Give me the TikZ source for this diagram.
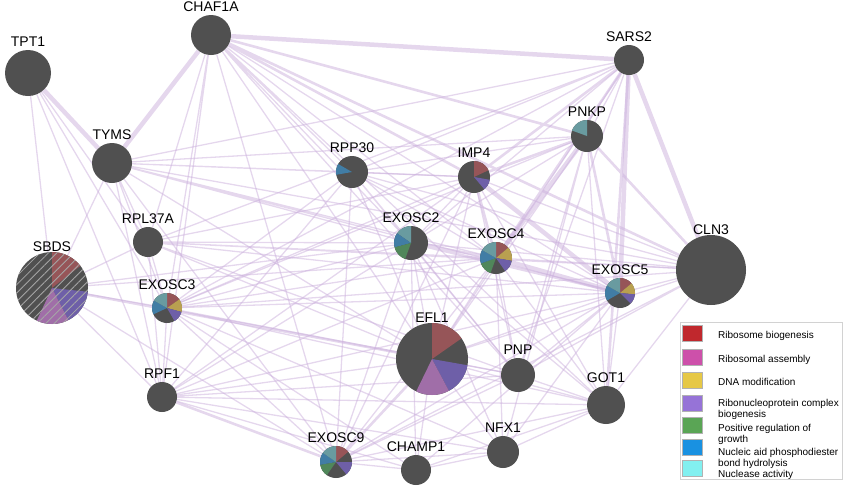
\documentclass[tikz,border=0pt]{standalone}
\usepackage{fontspec}
\setmainfont{Liberation Sans}
\usetikzlibrary{backgrounds,patterns.meta}

\definecolor{nodegray}{RGB}{80,80,80}
\definecolor{linklilac}{RGB}{203,176,220}
% legend colours
\definecolor{ribred}{RGB}{192,40,45}
\definecolor{ribmag}{RGB}{205,80,170}
\definecolor{dnayel}{RGB}{230,200,70}
\definecolor{rnppur}{RGB}{150,115,215}
\definecolor{growgrn}{RGB}{90,165,85}
\definecolor{hydblu}{RGB}{25,145,225}
\definecolor{nuccyn}{RGB}{130,240,240}
% muted pie colours
\definecolor{piered}{RGB}{150,85,88}
\definecolor{piemag}{RGB}{160,110,168}
\definecolor{pieyel}{RGB}{185,160,80}
\definecolor{piepur}{RGB}{110,95,168}
\definecolor{piegrn}{RGB}{80,135,90}
\definecolor{pieblu}{RGB}{65,125,165}
\definecolor{piecyn}{RGB}{105,155,160}

\newcommand{\piewedge}[5]{\fill[#5] (#1.center) -- ++(#3:#2) arc[start angle=#3, end angle=#4, radius=#2] -- cycle;}

\begin{document}
\begin{tikzpicture}[
  x=1pt, y=1pt,
  gene/.style={circle, fill=nodegray, inner sep=0pt},
  lbl/.style={font=\fontsize{14}{16}\selectfont, text=black},
  link/.style={draw=linklilac, line width=1.3pt, opacity=0.5},
  linkmid/.style={link, line width=2.6pt},
  linkthick/.style={link, line width=4.5pt},
  swatch/.style={draw=gray!60, minimum width=20pt, minimum height=16pt, inner sep=0pt},
  legtext/.style={font=\fontsize{10}{11.5}\selectfont, inner sep=0pt, align=left}
]
\useasboundingbox (0,0) rectangle (850,-488);

% genes
\node[gene, minimum size=46pt, label={[lbl]above:TPT1}] (tpt1) at (28,-73) {};
\node[gene, minimum size=40pt, label={[lbl]above:CHAF1A}] (chaf1a) at (211,-35) {};
\node[gene, minimum size=30pt, label={[lbl]above:SARS2}] (sars2) at (629,-60) {};
\node[gene, minimum size=40pt, label={[lbl]above:TYMS}] (tyms) at (112,-163) {};
\node[gene, minimum size=32pt, label={[lbl]above:RPP30}] (rpp30) at (352,-172) {};
\node[gene, minimum size=32pt, label={[lbl]above:IMP4}] (imp4) at (474,-177) {};
\node[gene, minimum size=32pt, label={[lbl]above:PNKP}] (pnkp) at (587,-136) {};
\node[gene, minimum size=30pt, label={[lbl]above:RPL37A}] (rpl37a) at (148,-242) {};
\node[gene, minimum size=34pt, label={[lbl]above:EXOSC2}] (exosc2) at (411,-243) {};
\node[gene, minimum size=32pt, label={[lbl]above:EXOSC4}] (exosc4) at (496,-258) {};
\node[gene, minimum size=70pt, label={[lbl,label distance=-3pt]above:CLN3}] (cln3) at (711,-270) {};
\node[gene, minimum size=72pt, label={[lbl,label distance=-3pt]above:SBDS}] (sbds) at (52,-288) {};
\node[gene, minimum size=30pt, label={[lbl]above:EXOSC3}] (exosc3) at (167,-308) {};
\node[gene, minimum size=30pt, label={[lbl]above:EXOSC5}] (exosc5) at (620,-293) {};
\node[gene, minimum size=72pt, label={[lbl,label distance=-3pt]above:EFL1}] (efl1) at (432,-359) {};
\node[gene, minimum size=34pt, label={[lbl]above:PNP}] (pnp) at (518,-375) {};
\node[gene, minimum size=30pt, label={[lbl]above:RPF1}] (rpf1) at (162,-397) {};
\node[gene, minimum size=38pt, label={[lbl]above:GOT1}] (got1) at (606,-405) {};
\node[gene, minimum size=32pt, label={[lbl]above:NFX1}] (nfx1) at (503,-452) {};
\node[gene, minimum size=32pt, label={[lbl]above:EXOSC9}] (exosc9) at (336,-462) {};
\node[gene, minimum size=30pt, label={[lbl]above:CHAMP1}] (champ1) at (416,-470) {};

% interactions
\begin{scope}[on background layer]
\draw[linkthick] (tpt1) -- (tyms) (tyms) -- (chaf1a) (chaf1a) -- (sars2) (sars2) -- (cln3)
  (sars2) -- (exosc5) (pnkp) -- (exosc4) (imp4) -- (exosc5) (exosc4) -- (exosc5);
\draw[linkmid] (imp4) -- (exosc4) (pnkp) -- (imp4) (exosc2) -- (exosc5) (rpf1) -- (exosc9)
  (efl1) -- (exosc9) (chaf1a) -- (pnkp) (chaf1a) -- (cln3) (sars2) -- (imp4) (sars2) -- (exosc4)
  (pnkp) -- (cln3) (sbds) -- (efl1) (exosc2) -- (exosc4) (sars2) -- (got1) (pnkp) -- (exosc5)
  (chaf1a) -- (imp4);
\draw[link] (tpt1) -- (sbds) (tpt1) -- (exosc3) (tpt1) -- (rpl37a) (tpt1) -- (rpf1);
\draw[link] (tyms) -- (sbds) (tyms) -- (rpl37a) (tyms) -- (rpp30) (tyms) -- (exosc2)
  (tyms) -- (imp4) (tyms) -- (pnkp) (tyms) -- (sars2) (tyms) -- (exosc4) (tyms) -- (exosc5)
  (tyms) -- (cln3) (tyms) -- (efl1) (tyms) -- (exosc3) (tyms) -- (exosc9) (tyms) -- (rpf1);
\draw[link] (chaf1a) -- (rpp30) (chaf1a) -- (exosc2) (chaf1a) -- (exosc4)
  (chaf1a) -- (exosc5) (chaf1a) -- (rpl37a) (chaf1a) -- (exosc3) (chaf1a) -- (efl1)
  (chaf1a) -- (exosc9) (chaf1a) -- (pnp) (chaf1a) -- (got1) (chaf1a) -- (rpf1);
\draw[link] (sars2) -- (rpp30) (sars2) -- (exosc2) (sars2) -- (pnkp) (sars2) -- (efl1)
  (sars2) -- (rpl37a) (sars2) -- (exosc3) (sars2) -- (pnp);
\draw[link] (pnkp) -- (exosc2) (pnkp) -- (got1) (pnkp) -- (rpp30)
  (pnkp) -- (efl1) (pnkp) -- (nfx1) (pnkp) -- (exosc3) (pnkp) -- (pnp);
\draw[link] (imp4) -- (rpp30) (imp4) -- (exosc2) (imp4) -- (cln3) (imp4) -- (efl1) (imp4) -- (pnp)
  (imp4) -- (got1) (imp4) -- (exosc9) (imp4) -- (rpl37a) (imp4) -- (exosc3) (imp4) -- (rpf1);
\draw[link] (rpp30) -- (exosc2) (rpp30) -- (exosc4) (rpp30) -- (exosc5) (rpp30) -- (efl1)
  (rpp30) -- (rpf1) (rpp30) -- (exosc3) (rpp30) -- (exosc9) (rpp30) -- (pnp) (rpp30) -- (cln3);
\draw[link] (rpl37a) -- (exosc2) (rpl37a) -- (exosc4) (rpl37a) -- (exosc5) (rpl37a) -- (efl1)
  (rpl37a) -- (rpf1) (rpl37a) -- (exosc3) (rpl37a) -- (sbds) (rpl37a) -- (cln3) (rpl37a) -- (pnp);
\draw[link] (exosc2) -- (efl1) (exosc2) -- (exosc3) (exosc2) -- (exosc9) (exosc2) -- (rpf1)
  (exosc2) -- (pnp) (exosc2) -- (got1) (exosc2) -- (cln3) (exosc2) -- (champ1) (exosc2) -- (nfx1);
\draw[link] (exosc4) -- (efl1) (exosc4) -- (cln3) (exosc4) -- (pnp) (exosc4) -- (got1)
  (exosc4) -- (exosc3) (exosc4) -- (exosc9) (exosc4) -- (rpf1) (exosc4) -- (nfx1);
\draw[link] (exosc5) -- (cln3) (exosc5) -- (got1) (exosc5) -- (pnp) (exosc5) -- (efl1)
  (exosc5) -- (exosc3) (exosc5) -- (exosc9) (exosc5) -- (rpf1) (exosc5) -- (nfx1) (exosc5) -- (champ1);
\draw[link] (cln3) -- (got1) (cln3) -- (efl1) (cln3) -- (pnp) (cln3) -- (exosc3) (cln3) -- (exosc9);
\draw[link] (sbds) -- (exosc3) (sbds) -- (rpf1) (sbds) -- (exosc9) (sbds) -- (exosc2) (sbds) -- (exosc4);
\draw[link] (exosc3) -- (efl1) (exosc3) -- (exosc9) (exosc3) -- (rpf1) (exosc3) -- (pnp)
  (exosc3) -- (got1) (exosc3) -- (nfx1) (exosc3) -- (champ1);
\draw[link] (efl1) -- (pnp) (efl1) -- (got1) (efl1) -- (nfx1) (efl1) -- (champ1) (efl1) -- (rpf1);
\draw[link] (rpf1) -- (pnp) (rpf1) -- (got1) (rpf1) -- (nfx1) (rpf1) -- (champ1);
\draw[link] (exosc9) -- (champ1) (exosc9) -- (nfx1) (exosc9) -- (pnp) (exosc9) -- (got1);
\draw[link] (champ1) -- (nfx1) (champ1) -- (got1) (nfx1) -- (got1) (pnp) -- (got1);
\end{scope}

% pie slices
\piewedge{efl1}{36pt}{35}{90}{piered}
\piewedge{efl1}{36pt}{-62}{-10}{piepur}
\piewedge{efl1}{36pt}{-116}{-62}{piemag}
\piewedge{sbds}{36pt}{38}{90}{piered}
\piewedge{sbds}{36pt}{-63}{-6}{piepur}
\piewedge{sbds}{36pt}{-115}{-63}{piemag}
\path[pattern={Lines[angle=45,distance=6pt,line width=0.8pt]}, pattern color=gray!70!white]
  (sbds.center) circle[radius=36pt];
\piewedge{exosc3}{15pt}{35}{90}{piered}
\piewedge{exosc3}{15pt}{-15}{35}{pieyel}
\piewedge{exosc3}{15pt}{-60}{-15}{piepur}
\piewedge{exosc3}{15pt}{150}{205}{pieblu}
\piewedge{exosc3}{15pt}{90}{150}{piecyn}
\piewedge{exosc9}{16pt}{40}{90}{piered}
\piewedge{exosc9}{16pt}{-50}{0}{piepur}
\piewedge{exosc9}{16pt}{190}{235}{piegrn}
\piewedge{exosc9}{16pt}{145}{190}{pieblu}
\piewedge{exosc9}{16pt}{90}{145}{piecyn}
\piewedge{exosc4}{16pt}{40}{90}{piered}
\piewedge{exosc4}{16pt}{-10}{40}{pieyel}
\piewedge{exosc4}{16pt}{-55}{-10}{piepur}
\piewedge{exosc4}{16pt}{200}{250}{piegrn}
\piewedge{exosc4}{16pt}{150}{200}{pieblu}
\piewedge{exosc4}{16pt}{90}{150}{piecyn}
\piewedge{exosc5}{15pt}{40}{90}{piered}
\piewedge{exosc5}{15pt}{-5}{40}{pieyel}
\piewedge{exosc5}{15pt}{-45}{-5}{piepur}
\piewedge{exosc5}{15pt}{150}{210}{pieblu}
\piewedge{exosc5}{15pt}{90}{150}{piecyn}
\piewedge{exosc2}{17pt}{90}{145}{piecyn}
\piewedge{exosc2}{17pt}{145}{195}{pieblu}
\piewedge{exosc2}{17pt}{195}{250}{piegrn}
\piewedge{imp4}{16pt}{25}{90}{piered}
\piewedge{imp4}{16pt}{-50}{-10}{piepur}
\piewedge{pnkp}{16pt}{90}{160}{piecyn}
\piewedge{rpp30}{16pt}{150}{190}{pieblu}

% legend
\draw[gray!35, fill=white] (680,-322) rectangle (842,-479);
\node[swatch, fill=ribred] (sw1) at (692,-333) {};
\node[swatch, fill=ribmag] (sw2) at (692,-357) {};
\node[swatch, fill=dnayel] (sw3) at (692,-380) {};
\node[swatch, fill=rnppur] (sw4) at (692,-403) {};
\node[swatch, fill=growgrn] (sw5) at (692,-425) {};
\node[swatch, fill=hydblu] (sw6) at (692,-447) {};
\node[swatch, fill=nuccyn] (sw7) at (692,-468) {};
\node[legtext, anchor=base west] (tx1) at (718,-338) {Ribosome biogenesis};
\node[legtext, anchor=base west] (tx2) at (718,-362) {Ribosomal assembly};
\node[legtext, anchor=base west] (tx3) at (718,-385) {DNA modification};
\node[legtext, anchor=north west] (tx4) at (718,-398.7) {Ribonucleoprotein complex\\biogenesis};
\node[legtext, anchor=north west] (tx5) at (718,-423.7) {Positive regulation of\\growth};
\node[legtext, anchor=north west] (tx6) at (718,-447.7) {Nucleic aid phosphodiester\\bond hydrolysis};
\node[legtext, anchor=base west] (tx7) at (718,-477) {Nuclease activity};
\end{tikzpicture}
\end{document}
